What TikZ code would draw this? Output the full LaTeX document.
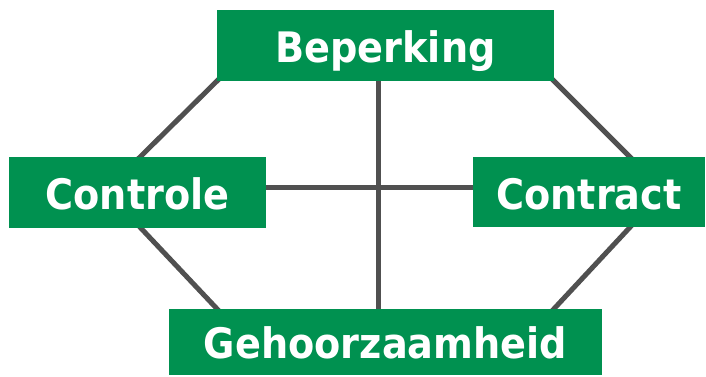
\documentclass[tikz,border=0pt]{standalone}
\usepackage{fontspec}
\setmainfont{DejaVu Sans}[FakeStretch=0.91]
\definecolor{boxgreen}{HTML}{009150}
\definecolor{linegray}{HTML}{505050}
\begin{document}
\begin{tikzpicture}[x=1pt,y=-1pt,
  gbox/.style={fill=boxgreen,draw=none,inner sep=0pt,text=white,
    text height=34.6pt,text depth=0pt,
    font=\fontsize{42}{46}\selectfont\bfseries},
  conn/.style={draw=linegray,line width=5pt}]
\useasboundingbox (0,0) rectangle (706,376);
% coordinates for connector ends
\coordinate (vt) at (378,60);
\coordinate (vb) at (378,330);
\coordinate (hl) at (240,187);
\coordinate (hr) at (500,187);
\coordinate (btl) at (220,78);
\coordinate (btr) at (551,78);
\coordinate (gtl) at (220,312);
\coordinate (gtr) at (551,312);
\coordinate (ctn) at (137,160);
\coordinate (cts) at (137,224);
\coordinate (crn) at (633,160);
\coordinate (crs) at (633,224);
\draw[conn] (vt) -- (vb);
\draw[conn] (hl) -- (hr);
\draw[conn] (ctn) -- (btl);
\draw[conn] (crn) -- (btr);
\draw[conn] (cts) -- (gtl);
\draw[conn] (crs) -- (gtr);
\node[gbox,minimum width=337pt,minimum height=71pt] (bep) at (385.5,45.5) {Beperking};
\node[gbox,minimum width=257pt,minimum height=71pt] (ctl) at (137.5,192.5) {Controle};
\node[gbox,minimum width=232pt,minimum height=70pt] (ctr) at (589,192) {Contract};
\node[gbox,minimum width=433pt,minimum height=66pt] (geh) at (385.5,341.5) {Gehoorzaamheid};
\end{tikzpicture}
\end{document}
